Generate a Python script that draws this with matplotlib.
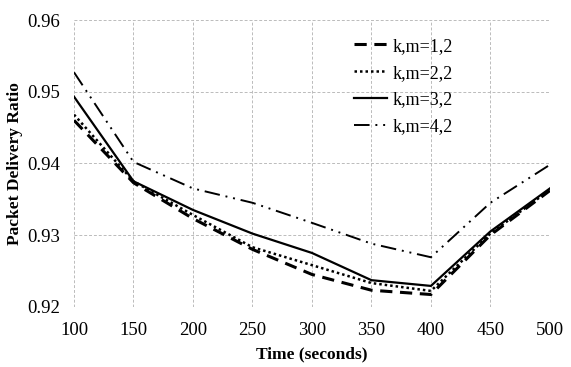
import matplotlib.pyplot as plt

plt.rcParams['font.family'] = ['Liberation Serif', 'DejaVu Serif']

time = [100, 150, 200, 250, 300, 350, 400, 450, 500]
km12 = [0.9460, 0.9373, 0.9323, 0.9280, 0.9245, 0.9223, 0.9217, 0.9300, 0.9362]
km22 = [0.9468, 0.9375, 0.9328, 0.9283, 0.9258, 0.9233, 0.9222, 0.9302, 0.9363]
km32 = [0.9493, 0.9375, 0.9335, 0.9302, 0.9275, 0.9237, 0.9229, 0.9305, 0.9365]
km42 = [0.9527, 0.9402, 0.9365, 0.9345, 0.9317, 0.9288, 0.9269, 0.9345, 0.9398]
labels = ['k,m=1,2', 'k,m=2,2', 'k,m=3,2', 'k,m=4,2']

fig = plt.figure(figsize=(5.71, 3.67), dpi=100)
ax = fig.add_axes([0.1296, 0.1643, 0.8334, 0.7812])

ax.plot(time, km12, color='black', linewidth=2.2, linestyle=(0, (4, 2.5)), label=labels[0])
ax.plot(time, km22, color='black', linewidth=1.8, linestyle=(0, (1, 1.2)), label=labels[1])
ax.plot(time, km32, color='black', linewidth=1.6, linestyle='-', label=labels[2])
ax.plot(time, km42, color='black', linewidth=1.4, linestyle=(0, (8, 3, 1, 3, 1, 3)), label=labels[3])

ax.set_xlim(100, 500)
ax.set_ylim(0.92, 0.96)
ax.set_xticks(time)
ax.set_yticks([0.92, 0.93, 0.94, 0.95, 0.96])
ax.set_yticklabels(['0.92', '0.93', '0.94', '0.95', '0.96'])
ax.tick_params(axis='both', labelsize=13.5, length=0)
ax.tick_params(axis='x', pad=11)
ax.tick_params(axis='y', pad=10)
for s in ax.spines.values():
    s.set_visible(False)
ax.grid(True, linestyle=(0, (3, 2)), color='#bbbbbb', linewidth=0.7)
ax.set_axisbelow(True)

ax.set_xlabel('Time (seconds)', fontsize=12.5, fontweight='bold', labelpad=5)
ax.set_ylabel('Packet Delivery Ratio', fontsize=12.5, fontweight='bold', labelpad=3)

ax.legend(loc='upper right', bbox_to_anchor=(0.83, 0.995), frameon=False, fontsize=13,
          handlelength=1.8, handletextpad=0.3, labelspacing=0.55)

plt.savefig('out.png', dpi=100)
